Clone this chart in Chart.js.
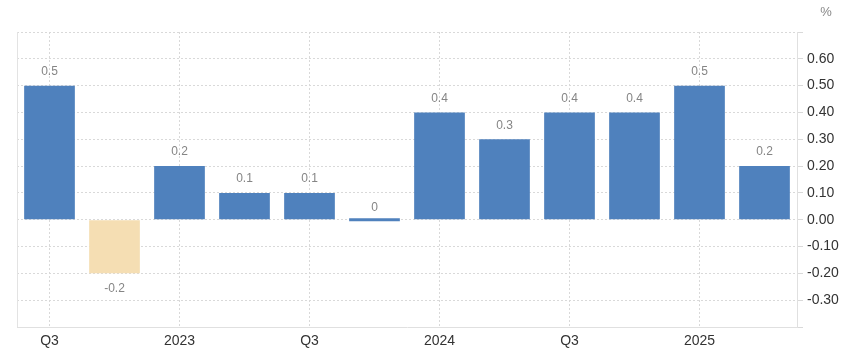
<!DOCTYPE html>
<html>
<head>
<meta charset="utf-8">
<script src="https://cdn.jsdelivr.net/npm/chart.js@4.4.1/dist/chart.umd.min.js"></script>
<style>
  html, body { margin: 0; padding: 0; background: #fff; }
  #wrap { width: 844px; height: 358px; position: relative; }
</style>
</head>
<body>
<div id="wrap"><canvas id="grafico"></canvas></div>
<script>
// datos
const categorias = ['Q3', 'Q4', '2023', 'Q2', 'Q3', 'Q4', '2024', 'Q2', 'Q3', 'Q4', '2025', 'Q2'];
const valores = [0.5, -0.2, 0.2, 0.1, 0.1, 0, 0.4, 0.3, 0.4, 0.4, 0.5, 0.2];
const etiquetas = ['0.5', '-0.2', '0.2', '0.1', '0.1', '0', '0.4', '0.3', '0.4', '0.4', '0.5', '0.2'];
const ticksY = [-0.3, -0.2, -0.1, 0, 0.1, 0.2, 0.3, 0.4, 0.5, 0.6];

const AZUL = '#4f81bd';
const BEIGE = '#f5deb3';
const GRID = '#d9d9d9';

// etiquetas sobre las barras + "%" + borde izquierdo
const extras = {
  id: 'extras',
  afterDatasetsDraw(chart) {
    const ctx = chart.ctx;
    const meta = chart.getDatasetMeta(0);
    ctx.save();
    ctx.font = '12px "Liberation Sans", Arial, sans-serif';
    ctx.fillStyle = '#858585';
    ctx.textAlign = 'center';
    ctx.textBaseline = 'middle';
    meta.data.forEach((bar, i) => {
      const v = valores[i];
      const y = v < 0 ? bar.y + 15 : bar.y - 14;
      ctx.fillText(etiquetas[i], bar.x, y);
    });
    ctx.restore();
  },
  afterDraw(chart) {
    const ctx = chart.ctx;
    const area = chart.chartArea;
    ctx.save();
    ctx.strokeStyle = '#e3e3e3';
    ctx.lineWidth = 1;
    ctx.beginPath();
    ctx.moveTo(Math.round(area.left) + 0.5, area.top);
    ctx.lineTo(Math.round(area.left) + 0.5, area.bottom);
    ctx.stroke();
    ctx.font = '13px "Liberation Sans", Arial, sans-serif';
    ctx.fillStyle = '#888';
    ctx.textAlign = 'center';
    ctx.textBaseline = 'middle';
    ctx.fillText('%', 826, 12);
    ctx.restore();
  }
};

const ctx = document.getElementById('grafico').getContext('2d');
new Chart(ctx, {
  type: 'bar',
  data: {
    labels: categorias,
    datasets: [{
      data: valores,
      backgroundColor: valores.map(v => v < 0 ? BEIGE : AZUL),
      categoryPercentage: 1,
      barPercentage: 0.78,
      minBarLength: 3
    }]
  },
  options: {
    responsive: true,
    maintainAspectRatio: false,
    animation: false,
    layout: { padding: { left: 17, top: 32, right: 0, bottom: 0 } },
    plugins: {
      legend: { display: false },
      tooltip: { enabled: false }
    },
    scales: {
      x: {
        grid: {
          offset: false,
          drawTicks: false,
          color: c => (c.index % 2 === 0 ? GRID : 'rgba(0,0,0,0)')
        },
        border: { color: '#e0e0e0', dash: [2, 2] },
        ticks: {
          autoSkip: false,
          maxRotation: 0,
          padding: 6,
          color: '#333',
          font: { size: 14, family: '"Liberation Sans", Arial, sans-serif' },
          callback: (val, i) => (i % 2 === 0 ? categorias[i] : '')
        },
        afterFit: s => { s.height = 31; }
      },
      y: {
        position: 'right',
        min: -0.4,
        max: 0.7,
        afterBuildTicks: s => {
          s.ticks = [-0.4].concat(ticksY, [0.7]).map(v => ({ value: v }));
        },
        grid: {
          color: GRID,
          tickLength: 6,
          tickColor: GRID
        },
        border: { color: '#e0e0e0', dash: [2, 2] },
        ticks: {
          padding: 4,
          color: '#333',
          font: { size: 14, family: '"Liberation Sans", Arial, sans-serif' },
          callback: v => {
            if (v > 0.65 || v < -0.35) return '';
            if (Math.abs(v) < 1e-9) return '0.00';
            return v.toFixed(2);
          }
        },
        afterFit: s => { s.width = 47; }
      }
    }
  },
  plugins: [extras]
});
</script>
</body>
</html>
